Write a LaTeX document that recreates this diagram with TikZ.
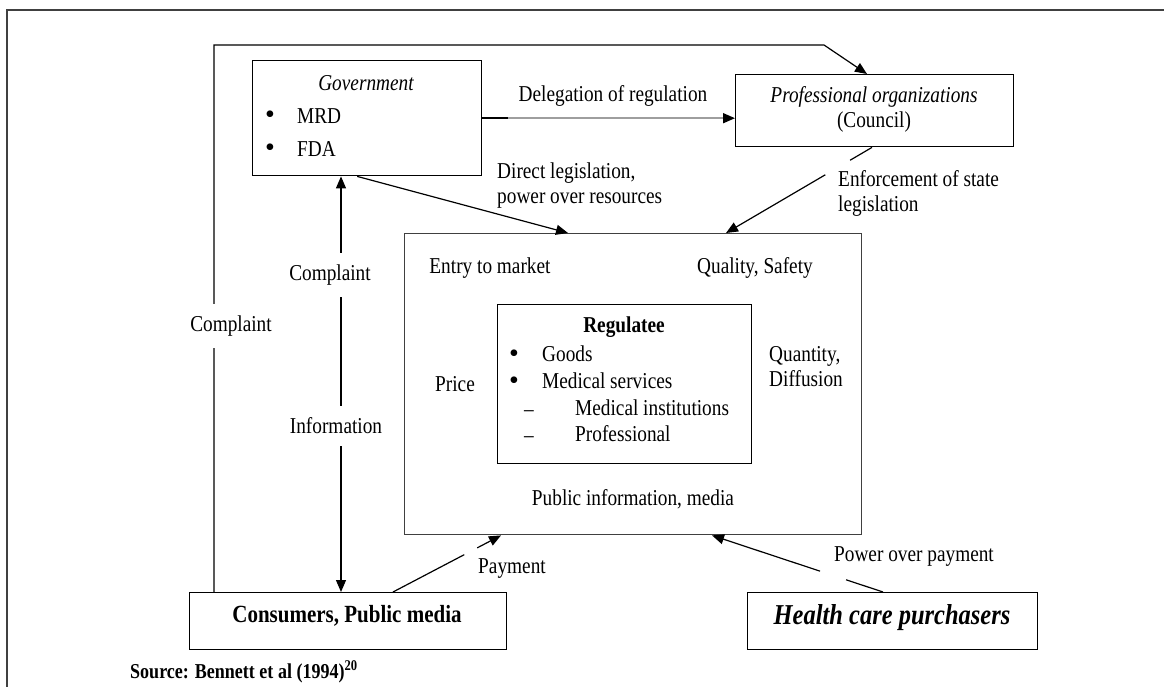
\documentclass[tikz,border=0pt]{standalone}
\usepackage{fontspec}
\setmainfont[FakeStretch=0.85]{Liberation Serif}
\newfontfamily\bulfont{Liberation Serif}
\usetikzlibrary{arrows.meta,calc}
\begin{document}
\begin{tikzpicture}[x=1pt,y=-1pt,
  box/.style={draw=black, line width=1.4pt, inner sep=0pt},
  con/.style={line width=1.2pt, draw=black},
  arr/.style={con, -{Triangle[length=12pt,width=10pt]}},
  darr/.style={con, {Triangle[length=12pt,width=10pt]}-{Triangle[length=12pt,width=10pt]}},
  txt/.style={font=\fontsize{22.7}{25}\selectfont, inner sep=0pt},
  ittxt/.style={font=\fontsize{22.7}{25}\selectfont\itshape, inner sep=0pt},
  gaplbl/.style={txt, fill=white, inner xsep=1pt, inner ysep=12pt},
  bul/.style={font=\bulfont\fontsize{28}{28}\selectfont, inner sep=0pt, anchor=base, text height=12pt, text depth=0pt},
  dsh/.style={txt, anchor=base, text height=8pt, text depth=0pt},
]
\useasboundingbox (0,0) rectangle (1164,687);
\fill[white] (0,0) rectangle (1164,687);
\draw[line width=2pt, draw=black!75] (7,687) -- (7,10) -- (1164,10);

% boxes
\node[box, minimum width=229pt, minimum height=115pt, anchor=north west] (gov) at (252,60) {};
\node[box, minimum width=278pt, minimum height=72pt, anchor=north west] (prof) at (735,74) {};
\node[box, draw=black!75, minimum width=457pt, minimum height=301pt, anchor=north west] (reg) at (404,233) {};
\node[box, minimum width=254pt, minimum height=159pt, anchor=north west] (regee) at (497,304) {};
\node[box, minimum width=317pt, minimum height=57pt, anchor=north west] (cons) at (189,592) {};
\node[box, minimum width=290pt, minimum height=57pt, anchor=north west] (hcp) at (747,592) {};

% government text
\node[ittxt] (govt) at (366,83) {Government};
\node[bul] (b1) at (270,124) {•};
\node[txt, anchor=west] (mrd) at (297,116) {MRD};
\node[bul] (b2) at (270,157) {•};
\node[txt, anchor=west] (fda) at (297,149) {FDA};

% professional organisations text
\node[txt, align=center] (proft) at (874,109) {\textit{Professional organizations}\\(Council)};

% regulator labels
\node[txt] (entry) at (490,268) {Entry to market};
\node[txt] (qual) at (755,268) {Quality, Safety};
\node[txt] (price) at (455,384) {Price};
\node[txt, anchor=west, align=left] (quant) at (769,367) {Quantity,\\Diffusion};
\node[txt] (pubinf) at (633,499) {Public information, media};

% regulatee
\node[txt, font=\fontsize{22.7}{25}\selectfont\bfseries] (regt) at (624,327) {Regulatee};
\node[bul] (b3) at (514,362) {•};
\node[txt, anchor=west] (goods) at (542,354) {Goods};
\node[bul] (b4) at (514,389) {•};
\node[txt, anchor=west] (medserv) at (542,381) {Medical services};
\node[dsh] (d1) at (529,416) {–};
\node[txt, anchor=west] (medinst) at (575,408) {Medical institutions};
\node[dsh] (d2) at (529,442) {–};
\node[txt, anchor=west] (profl) at (575,434) {Professional};

% delegation
\draw[con, line width=1.6pt, draw=black!38, -{Triangle[length=12pt,width=10pt,black]}] ([xshift=26pt]gov.east) -- (gov.east -| prof.west);
\draw[con, line width=1.4pt] (gov.east) -- ([xshift=26pt]gov.east);
\node[txt] (dlbl) at (613,96) {Delegation of regulation};

% direct legislation
\draw[arr] ([xshift=-10pt]gov.south) -- ([xshift=164pt]reg.north west);
\node[txt, anchor=west, align=left] (dl) at (497,185.5) {Direct legislation,\\power over resources};

% enforcement
\coordinate (e1) at ([xshift=137pt]prof.south west);
\coordinate (e2) at ([xshift=322pt]reg.north west);
\draw[con] (e1) -- ($(e1)!0.15!(e2)$);
\draw[arr] ($(e1)!0.32!(e2)$) -- (e2);
\node[txt, anchor=west, align=left] (el) at (838,193) {Enforcement of state\\legislation};

% outer complaint loop
\coordinate (tl) at (824,45);
\draw[arr] ([xshift=25pt]cons.north west) |- (tl) -- ([xshift=132pt]prof.north west);
\node[gaplbl] (c1) at (231,326) {Complaint};

% complaint / information
\coordinate (mx) at (341,0);
\draw[darr] (gov.south -| mx) -- (cons.north -| mx);
\node[gaplbl] (c2) at (330,275) {Complaint};
\node[gaplbl] (inf) at (336,426) {Information};

% payment
\coordinate (p1) at ([xshift=204pt]cons.north west);
\coordinate (p2) at ([xshift=97pt]reg.south west);
\draw[con] (p1) -- ($(p1)!0.66!(p2)$);
\draw[arr] ($(p1)!0.78!(p2)$) -- (p2);
\node[txt] (pay) at (512,569) {Payment};

% power over payment
\coordinate (q1) at ([xshift=136pt]hcp.north west);
\coordinate (q2) at ([xshift=308pt]reg.south west);
\draw[con] (q1) -- ($(q1)!0.216!(q2)$);
\draw[arr] ($(q1)!0.368!(q2)$) -- (q2);
\node[txt] (pop) at (914,557) {Power over payment};

% bottom boxes text
\node[txt, font=\fontsize{24.7}{28}\selectfont\bfseries] (const) at (347,616) {Consumers, Public media};
\node[txt, font=\fontsize{28.8}{30}\selectfont\bfseries\itshape] (hcpt) at (892,618) {Health care purchasers};

% source
\node[txt, anchor=west, font=\fontsize{21.2}{22}\selectfont\bfseries] (src) at (130,672) {Source: Bennett et al (1994)\textsuperscript{20}};
\end{tikzpicture}
\end{document}
